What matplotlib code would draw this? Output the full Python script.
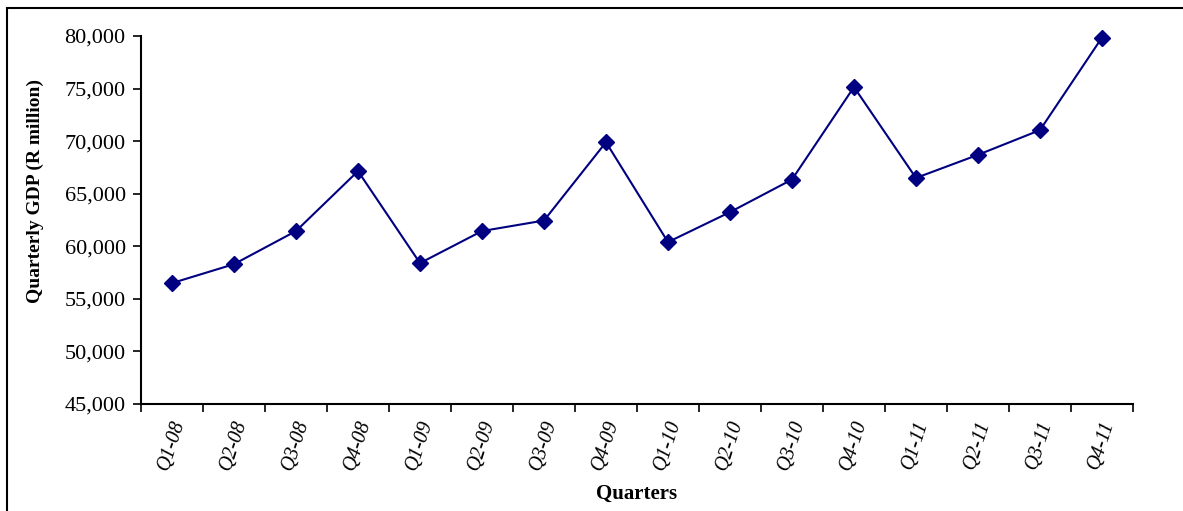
import matplotlib
matplotlib.use("Agg")
import matplotlib.pyplot as plt
import matplotlib.ticker as ticker
from matplotlib.patches import Rectangle

quarters = ["Q1-08", "Q2-08", "Q3-08", "Q4-08",
            "Q1-09", "Q2-09", "Q3-09", "Q4-09",
            "Q1-10", "Q2-10", "Q3-10", "Q4-10",
            "Q1-11", "Q2-11", "Q3-11", "Q4-11"]
gdp = [56500, 58300, 61450, 67150,
       58400, 61450, 62450, 69900,
       60400, 63250, 66350, 75150,
       66500, 68700, 71050, 79850]

plt.rcParams["font.family"] = ["Liberation Serif", "DejaVu Serif"]

fig = plt.figure(figsize=(11.83, 5.11), dpi=100)
ax = fig.add_axes([0.1192, 0.2094, 0.8385, 0.7201])

# outer chart frame (runs off the right and bottom edges)
fig.patches.append(Rectangle((7 / 1183, -0.05), 1.2, 1 - 8 / 511 + 0.05,
                             transform=fig.transFigure, fill=False,
                             edgecolor="black", linewidth=1.5))

x = list(range(len(quarters)))
ax.plot(x, gdp, color="#000080", linewidth=1.5, marker="D", markersize=8,
        markerfacecolor="#000080", markeredgecolor="#000080", clip_on=False)

ax.set_xlim(-0.5, len(quarters) - 0.5)
ax.set_ylim(45000, 80000)

ax.yaxis.set_major_locator(ticker.MultipleLocator(5000))
ax.yaxis.set_major_formatter(ticker.FuncFormatter(lambda v, p: f"{int(v):,}"))
ax.tick_params(axis="y", direction="out", length=6, width=1.2, labelsize=16, pad=5)

# labels sit on the categories, tick marks between them
ax.set_xticks(x)
ax.set_xticklabels(quarters, rotation=72, fontstyle="italic", fontsize=14.5,
                   ha="center", va="top")
ax.set_xticks([i - 0.5 for i in range(len(quarters) + 1)], minor=True)
ax.tick_params(axis="x", which="major", length=0, pad=10)
ax.tick_params(axis="x", which="minor", direction="out", length=6, width=1.2)

for s in ["top", "right"]:
    ax.spines[s].set_visible(False)
for s in ["left", "bottom"]:
    ax.spines[s].set_linewidth(1.5)

ax.set_ylabel("Quarterly GDP (R million)", fontweight="bold", fontsize=14)
ax.yaxis.set_label_coords(-0.098, 0.58)
ax.set_xlabel("Quarters", fontweight="bold", fontsize=15, labelpad=8)

fig.savefig("out.png", dpi=100)
